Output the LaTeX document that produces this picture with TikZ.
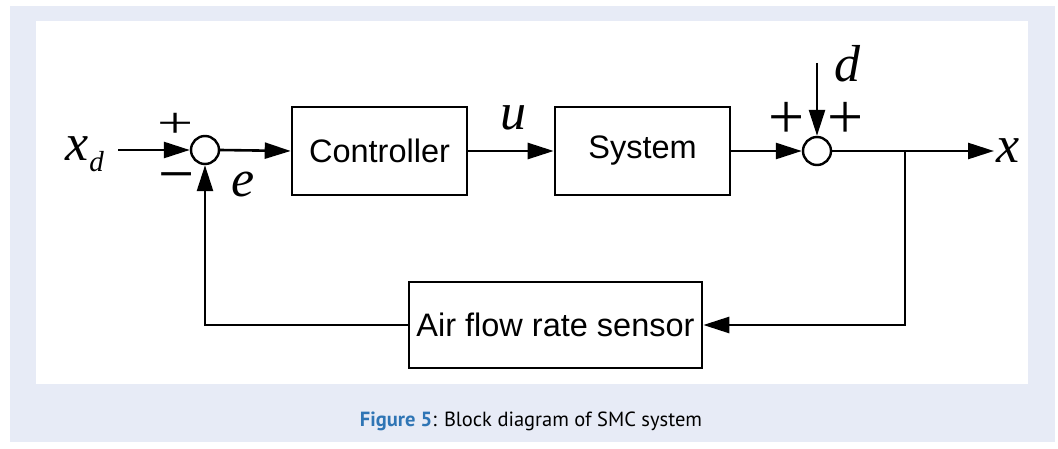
\documentclass[tikz,border=0pt]{standalone}
\usepackage{fontspec}
\setmainfont{Liberation Sans}
\newfontfamily\lblfont{Liberation Serif}[UprightFont=* Italic]
\newfontfamily\sgnfont{Liberation Serif}
\newfontfamily\capfont{PT Sans}
\usetikzlibrary{arrows.meta}
\definecolor{bgblue}{HTML}{E7EBF6}
\definecolor{figblue}{HTML}{2F75B5}
\begin{document}
\begin{tikzpicture}[x=1pt,y=-1pt,
  line width=2.6pt,
  arr/.style={-{Triangle[length=26pt,width=16pt]}},
  block/.style={draw,line width=2.6pt,inner sep=0pt,font=\fontsize{32.5}{36}\selectfont},
  sumnode/.style={draw,circle,line width=2.4pt,minimum size=28pt,inner sep=0pt},
  lbl/.style={inner sep=0pt,font=\fontsize{52}{52}\selectfont\lblfont},
  sgn/.style={inner sep=0pt,text height=32pt,text depth=0pt,font=\fontsize{64}{64}\selectfont\sgnfont}]
\useasboundingbox (0,0) rectangle (1058,449);
\fill[bgblue] (10,6) rectangle (1055,442);
\fill[white] (36,21) rectangle (1028,384);
% nodes
\node[sumnode] (s1) at (205,150) {};
\node[block,minimum width=175pt,minimum height=88pt] (ctrl) at (379.5,151) {Controller};
\node[block,minimum width=175pt,minimum height=88pt] (sys) at (642.5,151) {System};
\node[sumnode] (s2) at (817,151) {};
\node[block,minimum width=293pt,minimum height=86pt] (sens) at (555.5,325) {Air flow rate sensor};
\coordinate (in) at (118,150);
\coordinate (dtop) at (817,63);
\coordinate (br) at (905,151);
\coordinate (out) at (994,151);
\coordinate (brd) at (905,325);
\coordinate (fbl) at (205,325);
% labels
\node[lbl,anchor=base west] (xd) at (64,161) {x\kern1pt\raisebox{-11pt}{\fontsize{29}{29}\selectfont d}};
\node[lbl,anchor=base west] (ulbl) at (499,130) {u};
\node[lbl,anchor=base west] (elbl) at (230,197) {e};
\node[lbl,anchor=base west] (dlbl) at (833,82) {d};
\node[lbl,anchor=base west] (xlbl) at (995,163) {x};
\node[sgn,yscale=0.67] (p1) at (176,127) {+};
\node[sgn] (m1) at (177,180) {\char"2212};
\node[sgn] (p2) at (787,123) {+};
\node[sgn] (p3) at (846,123) {+};
% connectors
\draw[arr] (in) -- (s1.west);
\draw[arr] (s1.east) -- (ctrl.west);
\draw[arr] (ctrl.east) -- (sys.west);
\draw[arr] (sys.east) -- (s2.west);
\draw[arr] (dtop) -- (s2.north);
\draw (s2.east) -- (br);
\draw[arr] (br) -- (out);
\draw[arr] (br) -- (brd) -- (sens.east);
\draw[arr] (sens.west) -- (fbl) -- (s1.south);
% caption
\node[inner sep=0pt,font=\fontsize{20.5}{22}\selectfont\capfont] (cap) at (531,421) {\textcolor{figblue}{\textbf{Figure 5}}: Block diagram of SMC system};
\end{tikzpicture}
\end{document}
